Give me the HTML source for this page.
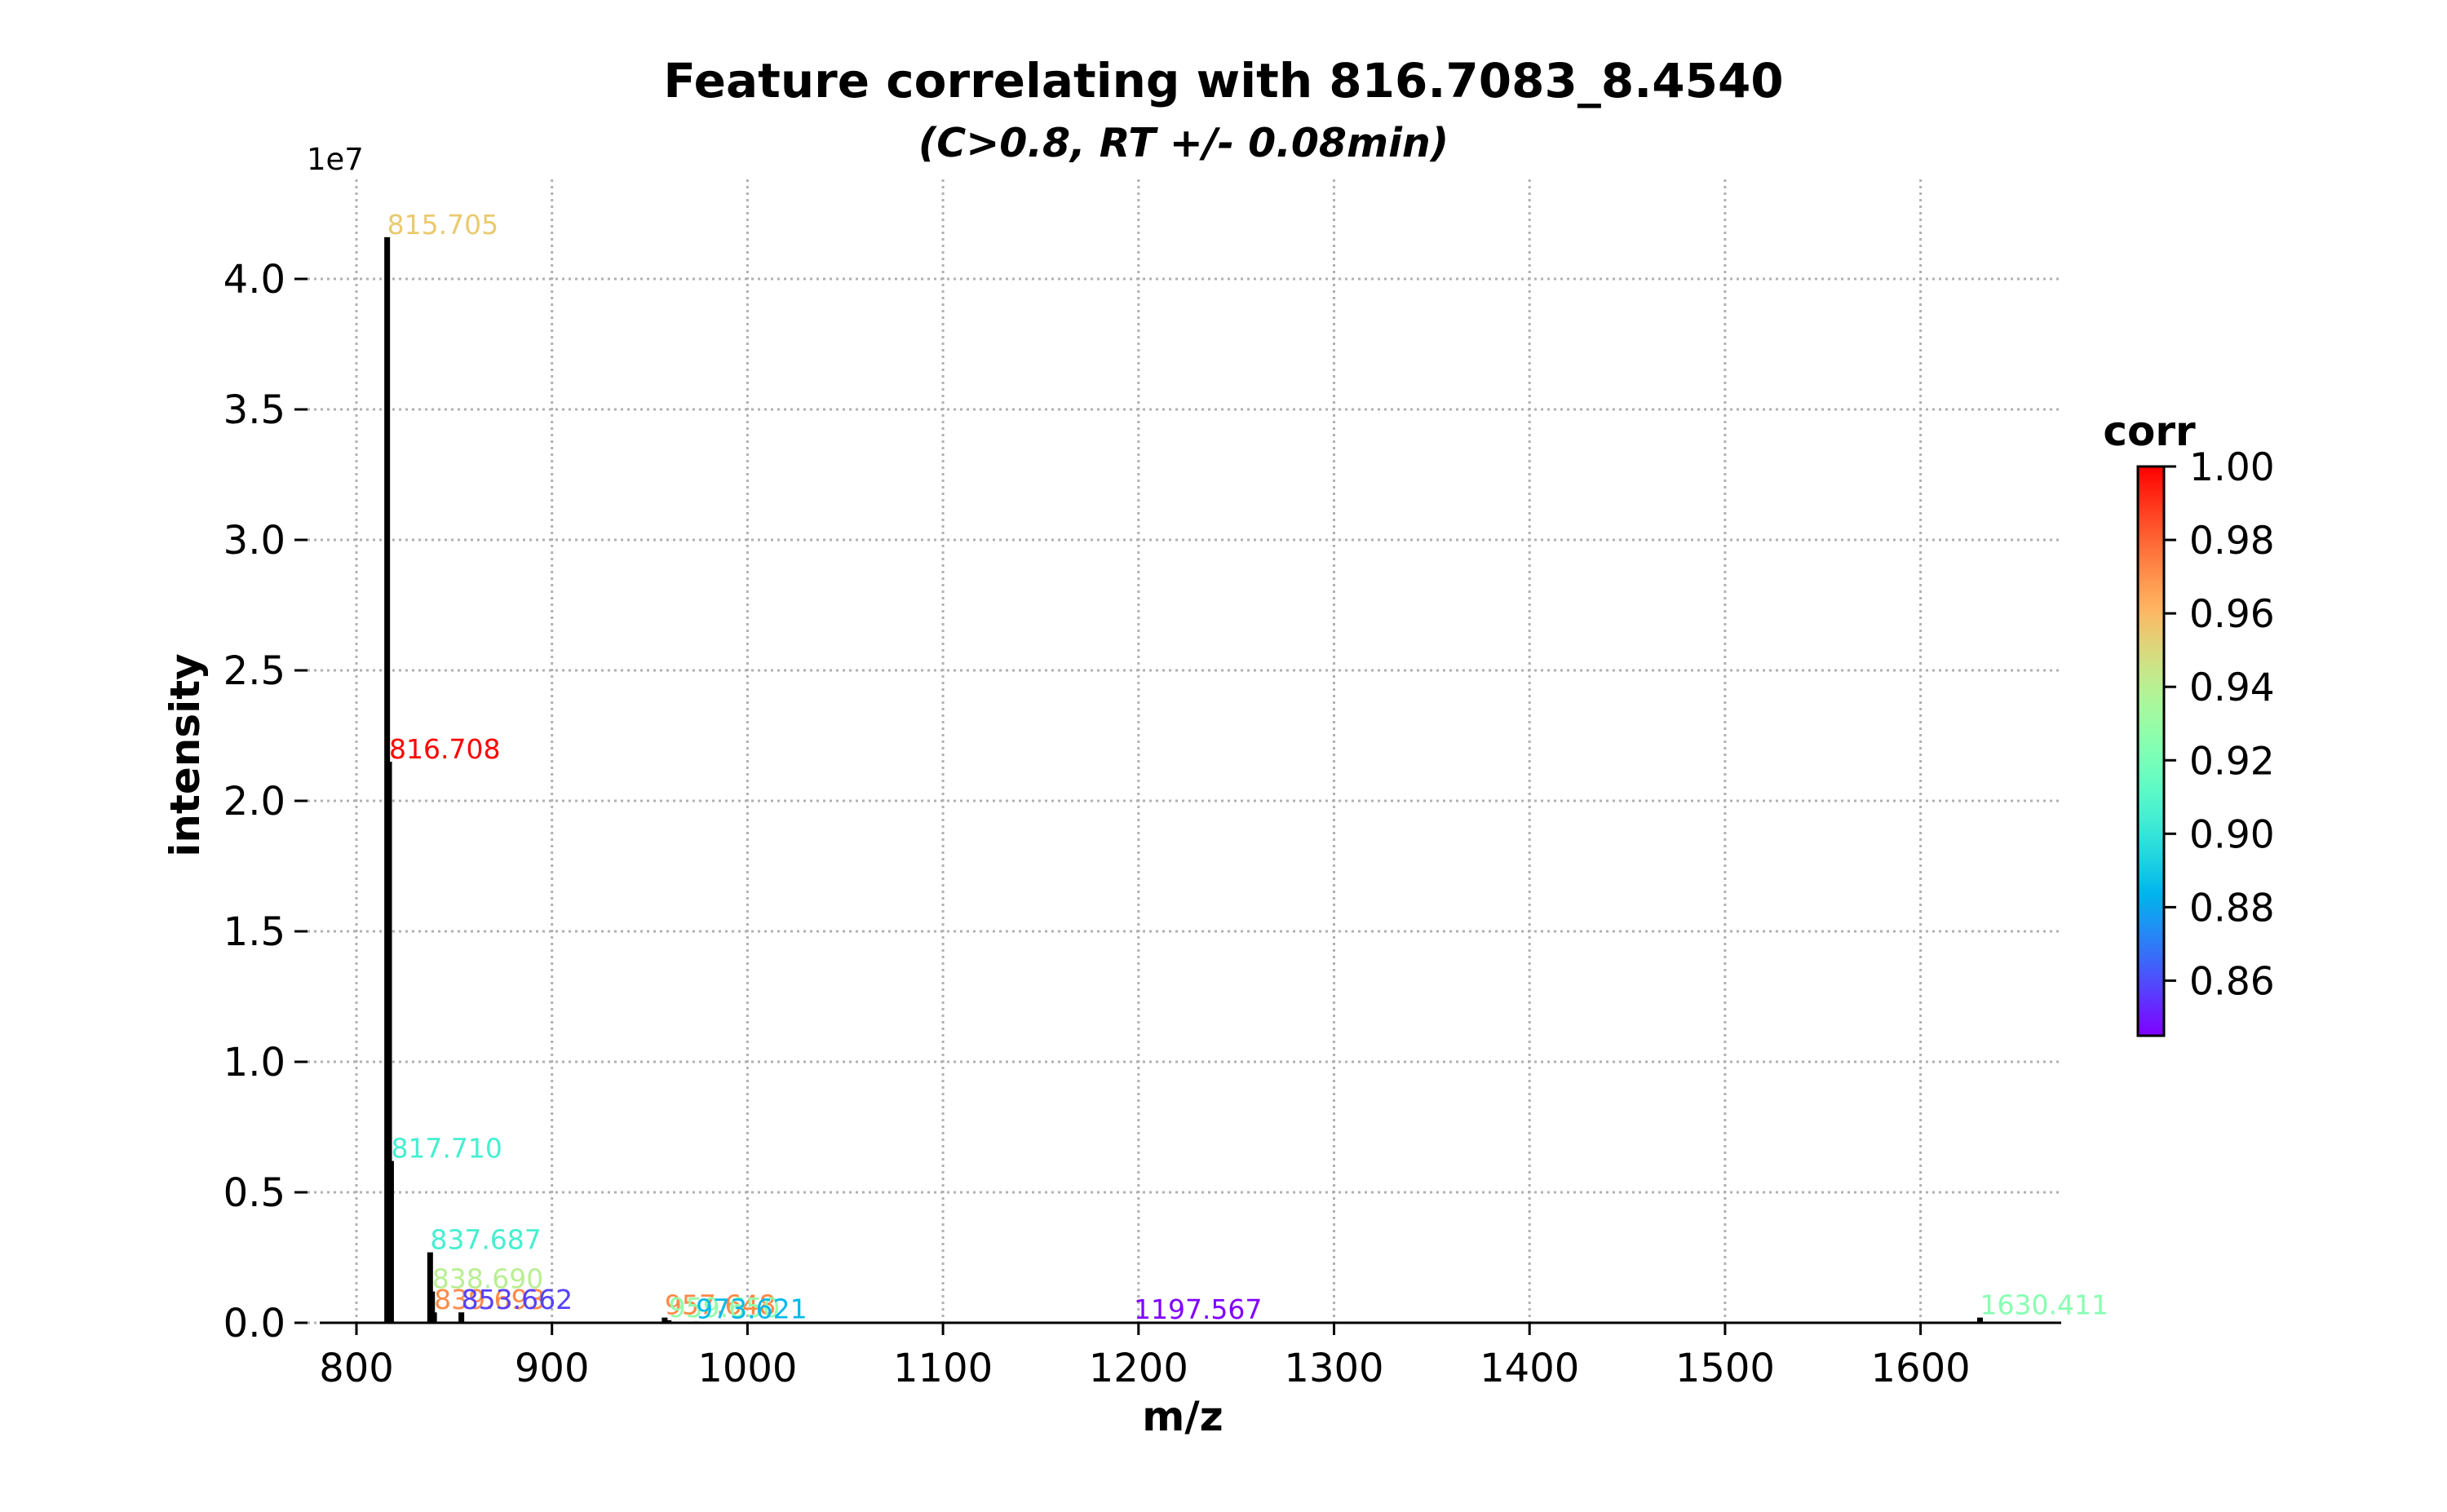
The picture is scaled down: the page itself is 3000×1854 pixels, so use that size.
<!DOCTYPE html>
<html><head><meta charset="utf-8"><style>
html,body{margin:0;padding:0;background:#fff;}
svg{display:block;font-family:"DejaVu Sans","Liberation Sans",sans-serif;}
</style></head><body>
<svg id="chart" width="3000" height="1854" viewBox="0 0 3000 1854" xmlns="http://www.w3.org/2000/svg">
<defs><linearGradient id="cbgrad" x1="0" y1="1" x2="0" y2="0"></linearGradient></defs>
<text x="1500" y="119" text-anchor="middle" font-size="58" font-weight="bold">Feature correlating with 816.7083_8.4540</text>
<text x="1451" y="192" text-anchor="middle" font-size="49" font-weight="bold" font-style="italic">(C&gt;0.8, RT +/- 0.08min)</text>
<text x="376" y="208" font-size="37">1e7</text>
<text transform="translate(244,926) rotate(-90)" text-anchor="middle" font-size="50" font-weight="bold">intensity</text>
<text x="1450" y="1754" text-anchor="middle" font-size="50" font-weight="bold">m/z</text>
<g id="grid"></g>
<g id="bars"></g>
<g id="axes"></g>
<g id="labels"></g>
<g id="cbar"></g>
</svg>
<script>
const mzValues = [815.705, 816.708, 817.710, 837.687, 838.690, 839.693, 853.662, 957.648, 959.650, 973.621, 1197.567, 1630.411];
const intensities = [4.16, 2.15, 0.62, 0.27, 0.12, 0.04, 0.04, 0.02, 0.01, 0.005, 0.003, 0.02];
const corrValues = [0.955, 1.0, 0.905, 0.905, 0.94, 0.972, 0.858, 0.972, 0.928, 0.885, 0.845, 0.925];
const peakLabels = ["815.705", "816.708", "817.710", "837.687", "838.690", "839.693", "853.662", "957.648", "959.650", "973.621", "1197.567", "1630.411"];
const xTicks = [800, 900, 1000, 1100, 1200, 1300, 1400, 1500, 1600];
const yTicks = [0, 0.5, 1.0, 1.5, 2.0, 2.5, 3.0, 3.5, 4.0];
const cbTicks = [0.86, 0.88, 0.90, 0.92, 0.94, 0.96, 0.98, 1.00];
const cbMin = 0.845, cbMax = 1.0;

const NS = "http://www.w3.org/2000/svg";
const X = v => 437 + (v - 800) * 2.397;
const Y = v => 1622 - v * 320;
const CY = v => 1270 - (v - cbMin) / (cbMax - cbMin) * 698;
function rainbow(t){
  const c = v => Math.round(Math.max(0, Math.min(1, v)) * 255);
  return `rgb(${c(Math.abs(2*t-0.5))},${c(Math.sin(Math.PI*t))},${c(Math.cos(Math.PI*t/2))})`;
}
function mk(tag, attrs, parent){
  const el = document.createElementNS(NS, tag);
  for (const k in attrs) el.setAttribute(k, attrs[k]);
  parent.appendChild(el);
  return el;
}
const grid = document.getElementById('grid'), axes = document.getElementById('axes');
const bars = document.getElementById('bars'), labels = document.getElementById('labels'), cbar = document.getElementById('cbar');
const LEFT = 377, RIGHT = 2527, TOP = 220, BOT = 1622;

xTicks.forEach(t => {
  const g = mk('line', {x1:X(t), x2:X(t), y1:TOP, y2:BOT, stroke:'#b0b0b0', 'stroke-width':3, 'stroke-dasharray':'3,5'}, grid);
  
  
  const tk = mk('line', {x1:X(t), x2:X(t), y1:BOT, y2:BOT+15, stroke:'#000', 'stroke-width':3}, axes);
  
  
  const tl = mk('text', {x:X(t), y:1694, 'text-anchor':'middle', 'font-size':48}, axes);
  tl.textContent = t;
  
  
});
yTicks.forEach(t => {
  const g = mk('line', {x1:LEFT, x2:RIGHT, y1:Y(t), y2:Y(t), stroke:'#b0b0b0', 'stroke-width':3, 'stroke-dasharray':'3,5'}, grid);
  
  
  const tk = mk('line', {x1:LEFT-16, x2:LEFT, y1:Y(t), y2:Y(t), stroke:'#000', 'stroke-width':3}, axes);
  
  
  const tl = mk('text', {x:LEFT-27, y:Y(t)+17, 'text-anchor':'end', 'font-size':48}, axes);
  tl.textContent = t.toFixed(1);
  
  
});
const spine = mk('line', {x1:392, x2:RIGHT, y1:BOT, y2:BOT, stroke:'#000', 'stroke-width':3}, axes);



mzValues.forEach((m, i) => {
  const h = Math.max(intensities[i] * 320, 1);
  const b = mk('rect', {x:X(m)-3.5, y:Y(intensities[i]), width:7, height:h, fill:'#000'}, bars);
  
  
  const t = (corrValues[i] - cbMin) / (cbMax - cbMin);
  const l = mk('text', {x:X(m), y:Y(intensities[i])-4, 'font-size':33, fill:rainbow(t)}, labels);
  l.textContent = peakLabels[i];
  
  
});

const grad = document.getElementById('cbgrad');
for (let k = 0; k <= 40; k++) {
  mk('stop', {offset:(k/40), 'stop-color':rainbow(k/40)}, grad);
}
const cbRect = mk('rect', {x:2621, y:572, width:32, height:698, fill:'url(#cbgrad)', stroke:'#000', 'stroke-width':3}, cbar);


cbTicks.forEach(t => {
  const tk = mk('line', {x1:2653, x2:2668, y1:CY(t), y2:CY(t), stroke:'#000', 'stroke-width':3}, cbar);
  
  
  const tl = mk('text', {x:2684, y:CY(t)+17, 'font-size':47}, cbar);
  tl.textContent = t.toFixed(2);
  
  
});
const cbt = mk('text', {x:2635, y:546, 'text-anchor':'middle', 'font-size':50, 'font-weight':'bold'}, cbar);
cbt.textContent = 'corr';


</script>
</body></html>
